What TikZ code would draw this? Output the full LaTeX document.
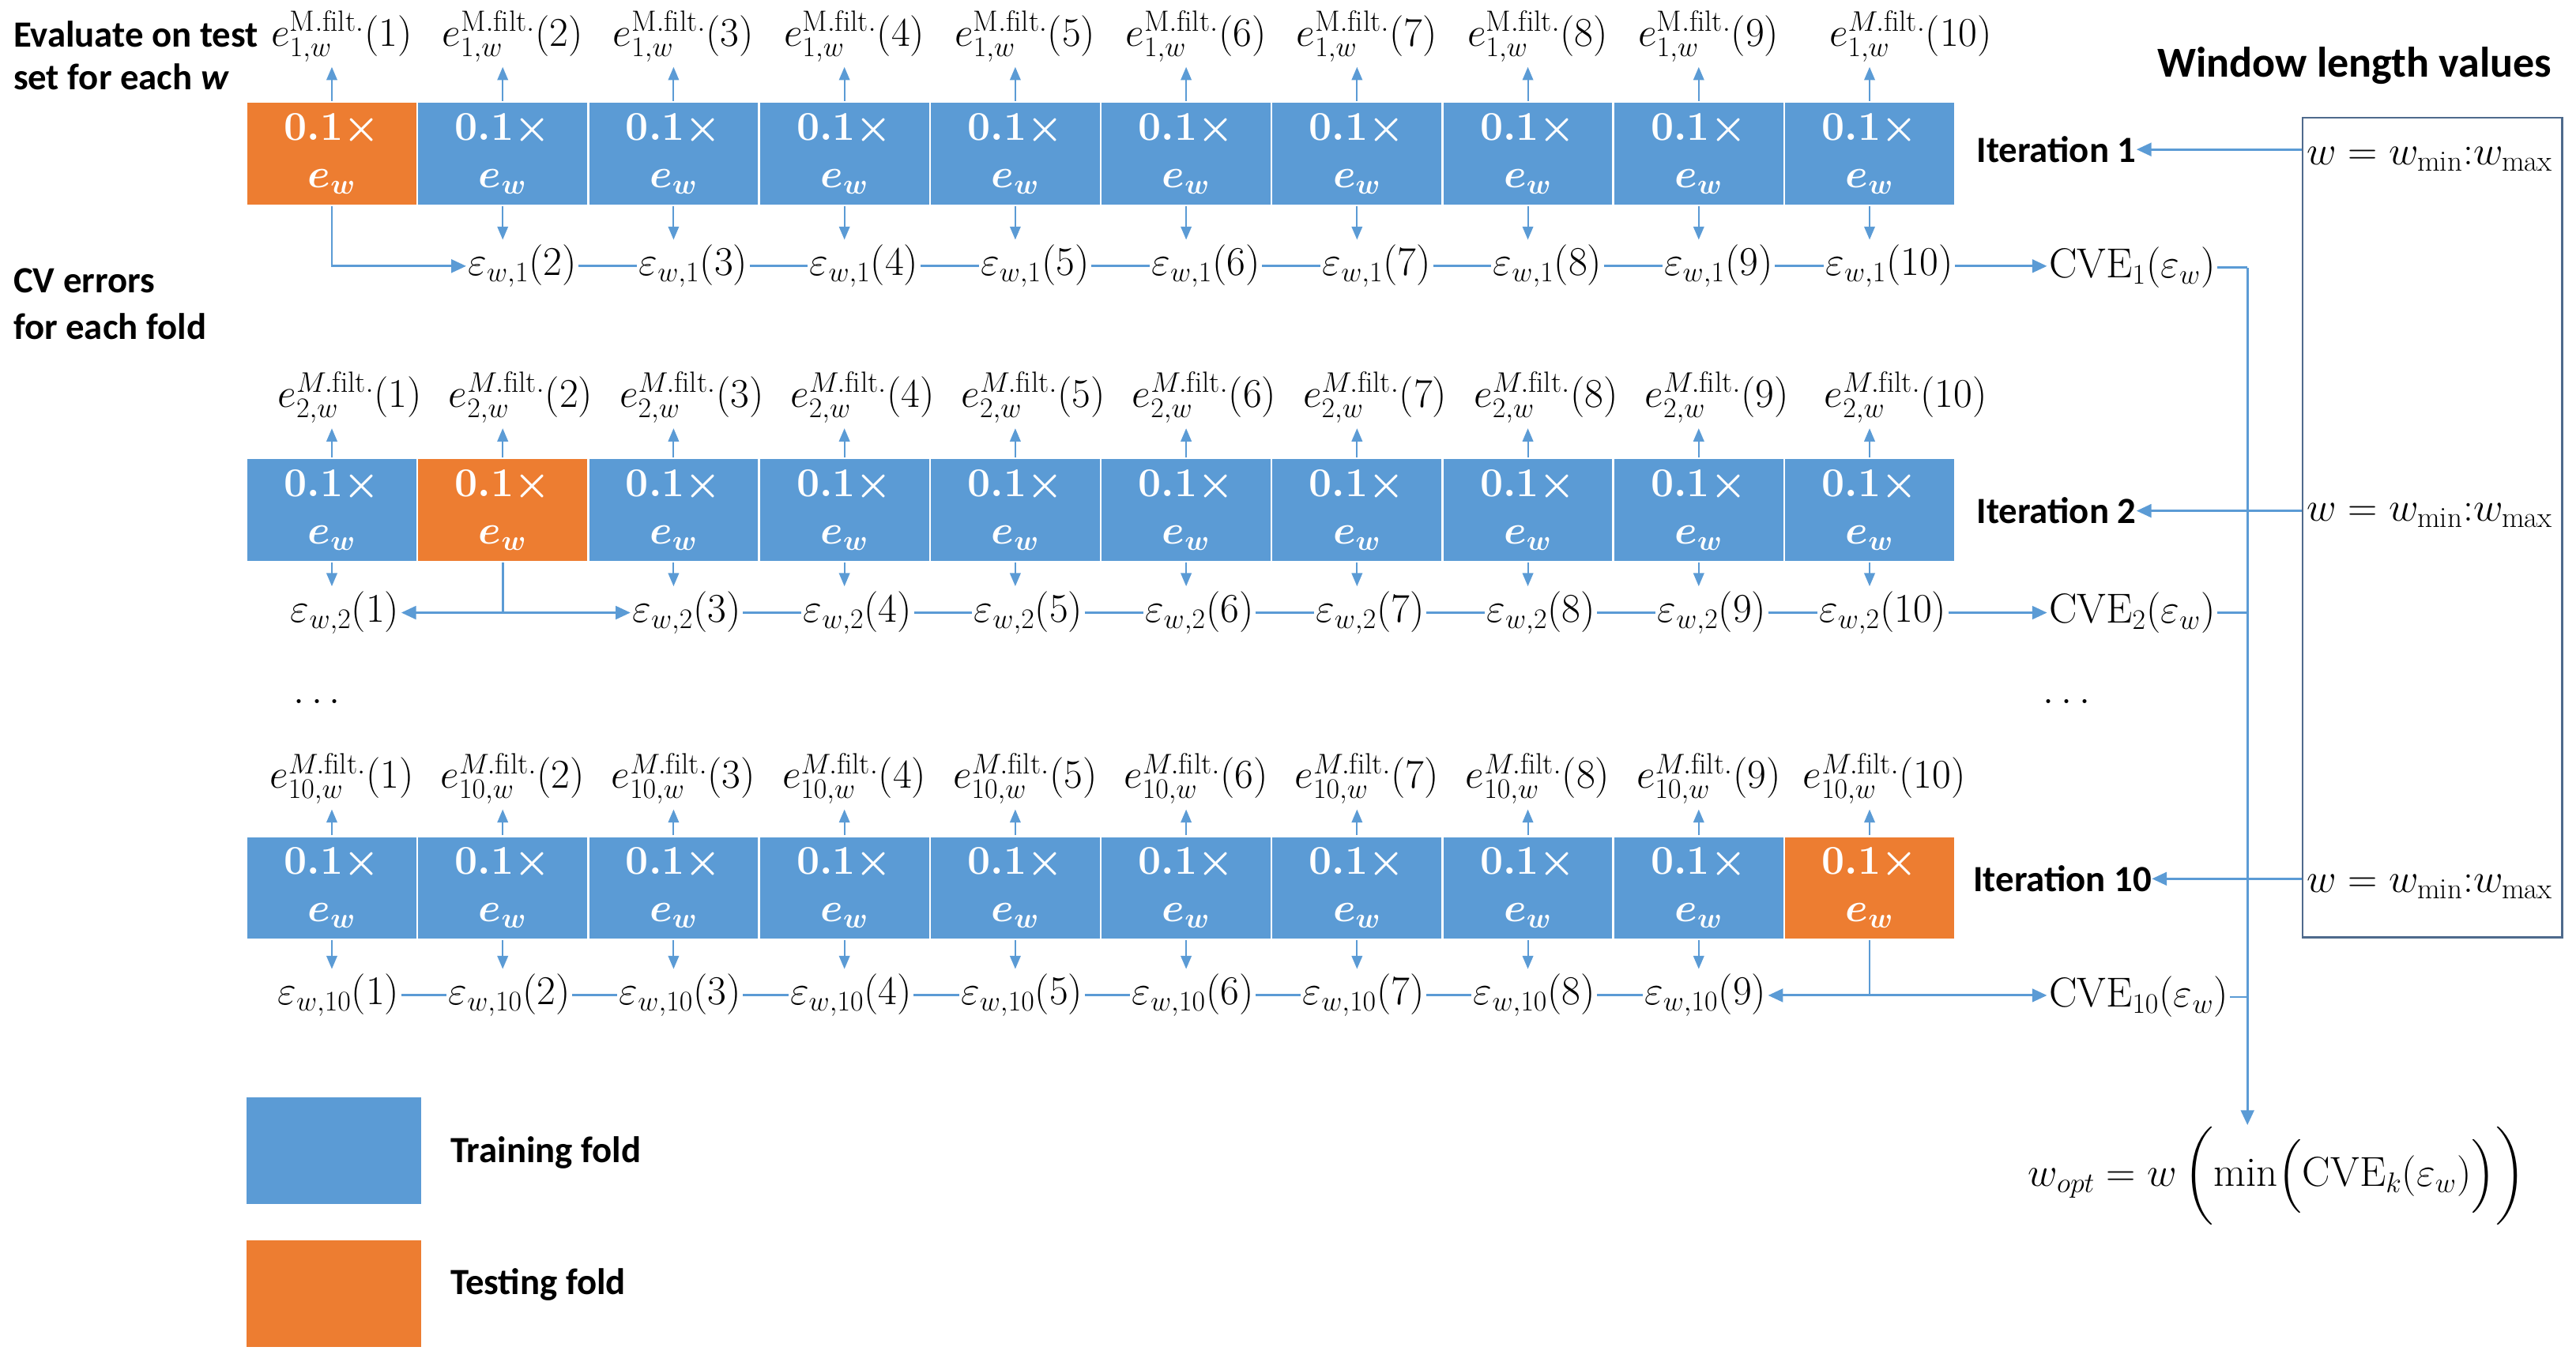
\documentclass[tikz,border=0pt]{standalone}
\usepackage{amsmath}
\usepackage{fontspec}
\newfontfamily\lblfont{Carlito}
\usetikzlibrary{arrows.meta}
\definecolor{blu}{HTML}{5B9BD5}
\definecolor{orng}{HTML}{ED7D31}
\definecolor{arrc}{HTML}{5B9BD5}
\definecolor{boxc}{HTML}{4E6A8C}
\newcommand\foldtxt{{\boldmath$0.1\times$}\\{\boldmath$e_w$}}
\begin{document}
\begin{tikzpicture}[x=1pt,y=-1pt,
  every node/.style={inner sep=1pt, font=\fontsize{25.5}{29}\selectfont},
  fold/.style={minimum width=104pt, minimum height=63pt, draw=white, line width=1.2pt, text=white, align=center, inner sep=0pt, font=\fontsize{24}{29}\selectfont},
  boldlbl/.style={font=\lblfont\bfseries\fontsize{22.5}{27}\selectfont, inner sep=0pt},
  conn/.style={draw=arrc, line width=1.4pt},
  arr/.style={conn, -{Triangle[length=9pt,width=8pt]}},
  tick/.style={draw=arrc, line width=1pt, shorten >=2pt, -{Triangle[length=8pt,width=6.5pt]}},
]
\useasboundingbox (0,0) rectangle (1568,829);

% ---------- left labels ----------
\node[boldlbl, anchor=west] (ev1) at (8,21) {Evaluate on test};
\node[boldlbl, anchor=west] (ev2) at (8,47) {set for each \textit{w}};
\node[boldlbl, anchor=west] (cv1l) at (8,171) {CV errors};
\node[boldlbl, anchor=west] (cv2l) at (8,199) {for each fold};
\node[boldlbl, anchor=west, font=\lblfont\bfseries\fontsize{26}{30}\selectfont] (wlv) at (1313,40) {Window length values};

% ---------- window box ----------
\node[draw=boxc, line width=1.2pt, minimum width=158pt, minimum height=499pt, anchor=north west, inner sep=0pt] (wbox) at (1401,71) {};
\node[anchor=west] (wl1) at (1403,97) {$w = w_{\min}{:}w_{\max}$};
\node[anchor=west] (wl2) at (1403,314) {$w = w_{\min}{:}w_{\max}$};
\node[anchor=west] (wl3) at (1403,540) {$w = w_{\min}{:}w_{\max}$};

\node[boldlbl, anchor=west] (it1) at (1203,91) {Iteration 1};
\node[boldlbl, anchor=west] (it2) at (1203,311) {Iteration 2};
\node[boldlbl, anchor=west] (it3) at (1201,535) {Iteration 10};
\draw[arr] (wbox.west |- it1.east) -- (it1.east);
\draw[arr] (wbox.west |- it2.east) -- (it2.east);
\draw[arr] (wbox.west |- it3.east) -- (it3.east);

% ---------- row 1 ----------
\foreach \k in {1,...,10}{
  \ifnum\k=1 \def\fc{orng}\else\def\fc{blu}\fi
  \node[fold, fill=\fc] (fa\k) at ({98+104*\k},93.5) {\foldtxt};
}
\foreach \k in {1,...,9}{
  \node (ta\k) at ({98+104*\k+6},22) {$e^{\mathrm{M.filt.}}_{1,w}(\k)$};
}
\node (ta10) at ({98+1040+25},22) {$e^{M.\mathrm{filt.}}_{1,w}(10)$};
\foreach \k in {1,...,10}{
  \draw[tick] (fa\k.north) -- (fa\k.north |- ta\k.south);
}
\foreach \k in {2,...,10}{
  \node (ea\k) at ({98+104*\k+12},162) {$\varepsilon_{w,1}(\k)$};
  \draw[tick] (fa\k.south) -- (fa\k.south |- ea\k.north);
}
\foreach \k in {2,...,9}{
  \pgfmathtruncatemacro\n{\k+1}
  \draw[conn] (ea\k.east) -- (ea\n.west |- ea\k.east);
}
\node[anchor=west] (cv1) at (1246,163) {$\mathrm{CVE}_1(\varepsilon_w)$};
\draw[arr] (ea10.east) -- (cv1.west |- ea10.east);
\draw[arr] (fa1.south) |- (ea2.west);

% ---------- row 2 ----------
\foreach \k in {1,...,10}{
  \ifnum\k=2 \def\fc{orng}\else\def\fc{blu}\fi
  \node[fold, fill=\fc] (fb\k) at ({98+104*\k},310.5) {\foldtxt};
}
\foreach \k in {1,...,9}{
  \node (tb\k) at ({98+104*\k+11},242) {$e^{M.\mathrm{filt.}}_{2,w}(\k)$};
}
\node (tb10) at ({98+1040+22},242) {$e^{M.\mathrm{filt.}}_{2,w}(10)$};
\foreach \k in {1,...,10}{
  \draw[tick] (fb\k.north) -- (fb\k.north |- tb\k.south);
}
\foreach \k in {1,3,4,5,6,7,8,9,10}{
  \node (eb\k) at ({98+104*\k+8},373) {$\varepsilon_{w,2}(\k)$};
  \draw[tick] (fb\k.south) -- (fb\k.south |- eb\k.north);
}
\foreach \k in {3,...,9}{
  \pgfmathtruncatemacro\n{\k+1}
  \draw[conn] (eb\k.east) -- (eb\n.west |- eb\k.east);
}
\node[anchor=west] (cv2) at (1246,373) {$\mathrm{CVE}_2(\varepsilon_w)$};
\draw[arr] (eb10.east) -- (cv2.west |- eb10.east);
\coordinate (jb) at (fb2.south |- eb1.east);
\draw[conn] (fb2.south) -- (jb);
\draw[arr] (jb) -- (eb1.east);
\draw[arr] (jb) -- (eb3.west |- jb);

% ---------- dots ----------
\node (d1) at (193,427) {$\ldots$};
\node (d2) at (1258,427) {$\ldots$};

% ---------- row 3 ----------
\foreach \k in {1,...,10}{
  \ifnum\k=10 \def\fc{orng}\else\def\fc{blu}\fi
  \node[fold, fill=\fc] (fc\k) at ({98+104*\k},540.5) {\foldtxt};
}
\foreach \k in {1,...,9}{
  \node (tc\k) at ({98+104*\k+6},474) {$e^{M.\mathrm{filt.}}_{10,w}(\k)$};
}
\node (tc10) at ({98+1040+9},474) {$e^{M.\mathrm{filt.}}_{10,w}(10)$};
\foreach \k in {1,...,10}{
  \draw[tick] (fc\k.north) -- (fc\k.north |- tc\k.south);
}
\foreach \k in {1,...,9}{
  \node (ec\k) at ({98+104*\k+4},606) {$\varepsilon_{w,10}(\k)$};
  \draw[tick] (fc\k.south) -- (fc\k.south |- ec\k.north);
}
\foreach \k in {1,...,8}{
  \pgfmathtruncatemacro\n{\k+1}
  \draw[conn] (ec\k.east) -- (ec\n.west |- ec\k.east);
}
\node[anchor=west] (cv3) at (1246,607) {$\mathrm{CVE}_{10}(\varepsilon_w)$};
\coordinate (jc) at (fc10.south |- ec9.east);
\draw[conn] (fc10.south) -- (jc);
\draw[arr] (jc) -- (ec9.east);
\draw[arr] (jc) -- (cv3.west |- jc);

% ---------- result ----------
\node (wopt) at (1386,716) {$w_{opt} = w\,\biggl(\min\Bigl(\mathrm{CVE}_k(\varepsilon_w)\Bigr)\biggr)$};
\coordinate (vx) at (1368,163);
\draw[conn] (cv1.east) -- (vx |- cv1.east);
\draw[conn] (cv2.east) -- (vx |- cv2.east);
\draw[conn] (cv3.east) -- (vx |- cv3.east);
\draw[arr] (vx |- cv1.east) -- (vx |- wopt.north);

% ---------- legend ----------
\node[fill=blu, minimum width=106pt, minimum height=65pt, anchor=north west, inner sep=0pt] (lg1) at (150,668) {};
\node[fill=orng, minimum width=106pt, minimum height=65pt, anchor=north west, inner sep=0pt] (lg2) at (150,755) {};
\node[boldlbl, anchor=west] (lt1) at (274,702) {Training fold};
\node[boldlbl, anchor=west] (lt2) at (274,782) {Testing fold};
\end{tikzpicture}
\end{document}
